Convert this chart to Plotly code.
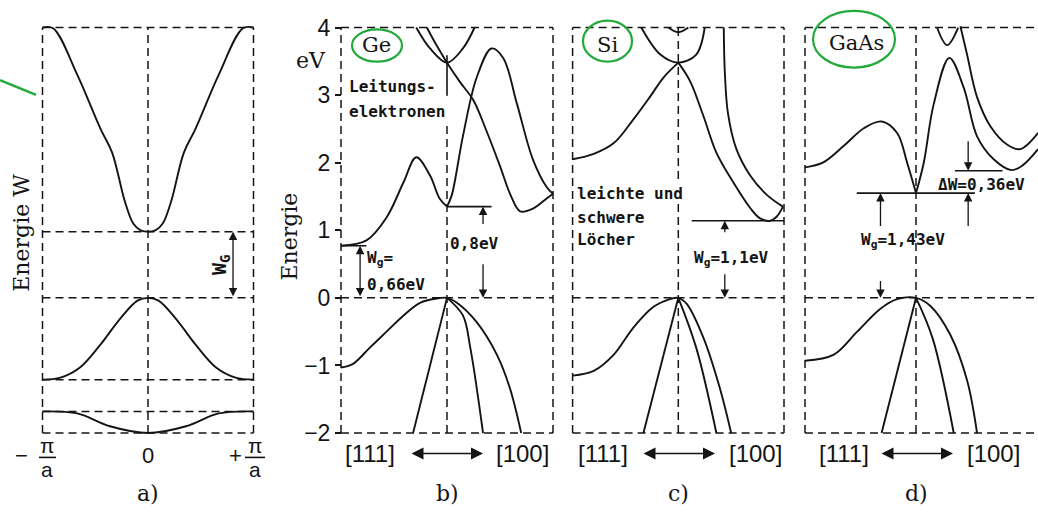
import plotly.graph_objects as go

W, H = 1038, 524

# ---------------- common energy axis (eV) ----------------
E_RANGE = [-2.1, 4.1]
E_TICKVALS = [-2, -1, 0, 1, 2, 3, 4]
E_TICKTEXT = ["\u22122", "\u22121", "0", "1", "2", "3", "4"]

# ---------------- a) schematic band model ----------------
A_UP_K = [-1, -0.9, -0.67, -0.45, -0.34, -0.22, -0.14, -0.07, 0, 0.07, 0.14, 0.22, 0.34, 0.45, 0.67, 0.9, 1]
A_UP_E = [4, 3.99, 3.3, 2.5, 2.15, 1.43, 1.1, 1.0, 0.98, 1.0, 1.1, 1.43, 2.15, 2.5, 3.3, 3.99, 4]
A_MID_K = [-1, -0.83, -0.645, -0.455, -0.265, -0.1, 0, 0.1, 0.265, 0.455, 0.645, 0.83, 1]
A_MID_E = [-1.21, -1.18, -1.03, -0.70, -0.31, -0.04, 0, -0.04, -0.31, -0.70, -1.03, -1.18, -1.21]
A_LOW_K = [-1, -0.67, -0.36, 0, 0.36, 0.67, 1]
A_LOW_E = [-1.68, -1.71, -1.9, -2.0, -1.9, -1.71, -1.68]
A_LEVELS = [4, 0.98, 0, -1.21, -1.68, -2]

# ---------------- b) Ge ----------------
GE_CB1L_K = [-1, -0.76, -0.57, -0.41, -0.29, -0.16, -0.07, 0]
GE_CB1L_E = [0.77, 0.85, 1.19, 1.71, 2.08, 1.81, 1.47, 1.35]
GE_CB1R_K = [0, 0.045, 0.15, 0.28, 0.42, 0.53, 0.66, 0.81, 0.94, 1]
GE_CB1R_E = [1.35, 1.52, 2.39, 3.26, 3.69, 3.55, 2.87, 2.05, 1.64, 1.54]
GE_CB2_K = [-0.19, -0.10, 0, 0.12, 0.25, 0.37, 0.50, 0.60, 0.69, 0.81, 0.94, 1]
GE_CB2_E = [4.0, 3.74, 3.48, 3.2, 2.92, 2.48, 1.95, 1.52, 1.28, 1.32, 1.47, 1.54]
GE_CB3_K = [-0.29, -0.16, 0, 0.15, 0.26]
GE_CB3_E = [4.0, 3.69, 3.48, 3.69, 4.0]
GE_VB1_K = [-1, -0.89, -0.73, -0.57, -0.41, -0.25, -0.1, 0, 0.09, 0.28, 0.47, 0.59, 0.70]
GE_VB1_E = [-1.03, -0.98, -0.74, -0.50, -0.26, -0.07, -0.01, 0, -0.07, -0.36, -0.84, -1.32, -2]
GE_VB2_K = [0, 0.15, 0.22, 0.34]
GE_VB2_E = [0, -0.26, -0.74, -2]
GE_VB3_K = [0, -0.32]
GE_VB3_E = [0, -2]
GE_GAP_L = 0.77     # level at [111] edge
GE_GAP_C = 1.35     # level at centre
GE_MARK = [2.99, 3.59]

# ---------------- c) Si ----------------
SI_CB1L_K = [-1, -0.80, -0.61, -0.43, -0.27, -0.14, 0]
SI_CB1L_E = [2.05, 2.13, 2.29, 2.63, 2.97, 3.26, 3.48]
SI_CB1R_K = [0, 0.11, 0.24, 0.36, 0.52, 0.68, 0.77, 0.87, 0.93, 0.99]
SI_CB1R_E = [3.48, 3.21, 2.68, 2.15, 1.71, 1.33, 1.18, 1.14, 1.2, 1.35]
SI_CB2_K = [0.43, 0.44, 0.47, 0.55, 0.68, 0.84, 0.99]
SI_CB2_E = [4.0, 3.35, 2.73, 2.2, 1.81, 1.52, 1.35]
SI_CB3_K = [-0.35, -0.17, 0, 0.17, 0.25]
SI_CB3_E = [4.0, 3.6, 3.48, 3.6, 4.0]
SI_CB4_K = [-0.095, 0, 0.095]
SI_CB4_E = [4.0, 3.93, 4.0]
SI_VB1_K = [-1, -0.8, -0.61, -0.43, -0.24, -0.08, 0, 0.08, 0.24, 0.39, 0.50]
SI_VB1_E = [-1.15, -1.08, -0.84, -0.45, -0.14, -0.02, 0, -0.09, -0.6, -1.32, -2]
SI_VB2_K = [0, 0.17, 0.36]
SI_VB2_E = [0, -0.74, -2]
SI_VB3_K = [0, -0.33]
SI_VB3_E = [0, -2]
SI_GAP = 1.14

# ---------------- d) GaAs ----------------
GA_CB1L_K = [-1, -0.84, -0.65, -0.47, -0.31, -0.17, -0.08, 0]
GA_CB1L_E = [1.93, 2.0, 2.25, 2.51, 2.61, 2.44, 2.0, 1.55]
GA_CB1R_K = [0, 0.07, 0.16, 0.30, 0.43, 0.55, 0.70, 0.86, 0.96, 1.10]
GA_CB1R_E = [1.55, 2.0, 2.87, 3.55, 3.11, 2.39, 2.05, 1.89, 1.96, 2.2]
GA_CB2_K = [0.40, 0.46, 0.55, 0.67, 0.82, 0.94, 1.10]
GA_CB2_E = [4.02, 3.6, 2.97, 2.54, 2.27, 2.2, 2.44]
GA_CB3_K = [0.19, 0.28, 0.38]
GA_CB3_E = [4.0, 3.74, 4.0]
GA_VB1_K = [-1, -0.74, -0.53, -0.32, -0.17, 0, 0.13, 0.31, 0.46, 0.55]
GA_VB1_E = [-0.93, -0.84, -0.5, -0.16, -0.02, 0, -0.12, -0.55, -1.22, -2]
GA_VB2_K = [0, 0.15, 0.34]
GA_VB2_E = [0, -0.6, -2]
GA_VB3_K = [0, -0.31]
GA_VB3_E = [0, -2]
GA_GAP = 1.55
GA_SIDE = 1.88

# panel geometry: axis name, centre pixel, pixels per unit k, k range
PANELS = [
    ("x", 148.0, 105.5, [-1.05, 1.05]),
    ("x2", 447.0, 106.0, [-1.05, 1.05]),
    ("x3", 678.3, 105.7, [-1.05, 1.05]),
    ("x4", 916.0, 111.0, [-1.05, 1.099]),
]
E0_PX, PX_PER_EV = 298.7, 69.17

INK = "#141414"
GREEN = "rgb(34,170,60)"
SERIF = "DejaVu Serif"
SANS = "Liberation Sans"
MONO = "DejaVu Sans Mono"

fig = go.Figure()


def curve(xa, k, e, shape="spline"):
    fig.add_trace(go.Scatter(x=k, y=e, xaxis=xa, yaxis="y", mode="lines",
                             line=dict(color=INK, width=1.9, shape=shape, smoothing=1.0),
                             hoverinfo="skip", showlegend=False))


def dline(xa, x0, x1, y0, y1, dash=True, width=1.5):
    fig.add_shape(type="line", xref=xa, yref="y", x0=x0, x1=x1, y0=y0, y1=y1,
                  line=dict(color=INK, width=width, dash="8px,5px" if dash else "solid"))


def arrow(xa, k, tip, tail, both=False):
    fig.add_annotation(x=k, y=tip, ax=k, ay=tail, xref=xa, yref="y", axref=xa, ayref="y",
                       text="", showarrow=True, arrowhead=2, arrowsize=1.3, arrowwidth=1.3,
                       arrowcolor=INK, arrowside="end+start" if both else "end", standoff=0,
                       startstandoff=0)


def txt(x, y, s, size=17, font=MONO, anchor="left", angle=0, bold=False, color=INK):
    if bold:
        s = "<b>" + s + "</b>"
    fig.add_annotation(x=x / W, y=1 - y / H, xref="paper", yref="paper", text=s,
                       showarrow=False, xanchor=anchor, yanchor="middle", textangle=angle,
                       font=dict(family=font, size=size, color=color))


# ---- a)
curve("x", A_UP_K, A_UP_E)
curve("x", A_MID_K, A_MID_E)
curve("x", A_LOW_K, A_LOW_E)
for lv in A_LEVELS:
    dline("x", -1, 1, lv, lv)
for kv in [-1, 0, 1]:
    dline("x", kv, kv, -2, 4)
arrow("x", 0.806, A_LEVELS[1], A_LEVELS[2], both=True)

# ---- b) Ge
curve("x2", GE_CB1L_K, GE_CB1L_E)
curve("x2", GE_CB1R_K, GE_CB1R_E)
curve("x2", GE_CB2_K, GE_CB2_E)
curve("x2", GE_CB3_K, GE_CB3_E)
curve("x2", GE_VB1_K, GE_VB1_E)
curve("x2", GE_VB2_K, GE_VB2_E)
curve("x2", GE_VB3_K, GE_VB3_E, shape="linear")
for lv in [4, 0, -2]:
    dline("x2", -1, 1, lv, lv)
for kv in [-1, 1]:
    dline("x2", kv, kv, -2, 4)
dline("x2", 0, 0, -2, 2.55)
dline("x2", 0, 0, GE_MARK[0], GE_MARK[1], dash=False, width=1.6)
dline("x2", -1, -0.76, GE_GAP_L, GE_GAP_L, dash=False, width=1.6)
dline("x2", 0, 0.42, GE_GAP_C, GE_GAP_C, dash=False, width=1.6)
arrow("x2", -0.82, GE_GAP_L, 0, both=True)
arrow("x2", 0.34, GE_GAP_C, 1.07)
arrow("x2", 0.34, 0, 0.52)

# ---- c) Si
curve("x3", SI_CB1L_K, SI_CB1L_E)
curve("x3", SI_CB1R_K, SI_CB1R_E)
curve("x3", SI_CB2_K, SI_CB2_E)
curve("x3", SI_CB3_K, SI_CB3_E)
curve("x3", SI_CB4_K, SI_CB4_E)
curve("x3", SI_VB1_K, SI_VB1_E)
curve("x3", SI_VB2_K, SI_VB2_E)
curve("x3", SI_VB3_K, SI_VB3_E, shape="linear")
for lv in [4, 0, -2]:
    dline("x3", -1, 1, lv, lv)
for kv in [-1, 1]:
    dline("x3", kv, kv, -2, 4)
dline("x3", 0, 0, 1.76, 4)
dline("x3", 0, 0, -2, 1.42)
dline("x3", 0.127, 1, SI_GAP, SI_GAP, dash=False, width=1.6)
arrow("x3", 0.44, SI_GAP, 0.95)
arrow("x3", 0.44, 0, 0.37)

# ---- d) GaAs
curve("x4", GA_CB1L_K, GA_CB1L_E)
curve("x4", GA_CB1R_K, GA_CB1R_E)
curve("x4", GA_CB2_K, GA_CB2_E)
curve("x4", GA_CB3_K, GA_CB3_E)
curve("x4", GA_VB1_K, GA_VB1_E)
curve("x4", GA_VB2_K, GA_VB2_E)
curve("x4", GA_VB3_K, GA_VB3_E, shape="linear")
for lv in [4, 0, -2]:
    dline("x4", -1, 1.2, lv, lv)
for kv in [-1, 0]:
    dline("x4", kv, kv, -2, 4)
dline("x4", -0.534, 0.53, GA_GAP, GA_GAP, dash=False, width=1.6)
dline("x4", 0.35, 0.78, GA_SIDE, GA_SIDE, dash=False, width=1.6)
arrow("x4", -0.32, GA_GAP, 1.04)
arrow("x4", -0.32, 0, 0.27)
arrow("x4", 0.47, GA_GAP, 1.04)
arrow("x4", 0.47, GA_SIDE, 2.34)

# ---- axes
layout = dict(width=W, height=H, margin=dict(l=0, r=0, t=0, b=0), autosize=False,
              plot_bgcolor="white", paper_bgcolor="white", showlegend=False)
ytop = E0_PX - E_RANGE[1] * PX_PER_EV
ybot = E0_PX - E_RANGE[0] * PX_PER_EV
layout["yaxis"] = dict(range=E_RANGE, domain=[1 - ybot / H, 1 - ytop / H],
                       anchor="free", position=341 / W,
                       tickvals=E_TICKVALS, ticktext=E_TICKTEXT, ticks="outside",
                       ticklen=6, tickwidth=1.5, tickcolor=INK, showgrid=False,
                       zeroline=False, showline=False,
                       tickfont=dict(family=SANS, size=23, color=INK))
for name, c, ppk, kr in PANELS:
    key = "xaxis" if name == "x" else "xaxis" + name[1:]
    left = c + kr[0] * ppk
    right = c + kr[1] * ppk
    layout[key] = dict(range=kr, domain=[left / W, min(right / W, 1.0)], anchor="y",
                       showticklabels=False, ticks="", showgrid=False, zeroline=False,
                       showline=False)
fig.update_layout(**layout)

# ---- texts: panel a
txt(22, 232, "Energie W", size=22, font=SERIF, anchor="center", angle=-90)
txt(220, 265, "W<sub>G</sub>", size=20, font=MONO, anchor="center", angle=-90, bold=True)
txt(21, 460, "\u2212", size=22, font=SANS, anchor="center")
txt(47, 450, "\u03c0", size=21, font=SANS, anchor="center")
txt(47, 474, "a", size=21, font=SANS, anchor="center")
txt(148, 460, "0", size=22, font=SANS, anchor="center")
txt(235, 460, "+", size=22, font=SANS, anchor="center")
txt(255, 450, "\u03c0", size=21, font=SANS, anchor="center")
txt(255, 474, "a", size=21, font=SANS, anchor="center")
for x0, x1 in [(39, 56), (245, 265)]:
    fig.add_shape(type="line", xref="paper", yref="paper", x0=x0 / W, x1=x1 / W,
                  y0=1 - 462 / H, y1=1 - 462 / H, line=dict(color=INK, width=1.6))

# ---- texts: energy axis
txt(290, 236, "Energie", size=22, font=SERIF, anchor="center", angle=-90)
txt(311, 56, "eV", size=22, font=SERIF, anchor="center")

# ---- texts: Ge
txt(376, 40, "Ge", size=21, font=SERIF, anchor="center")
txt(347, 82, "Leitungs-", size=16, bold=True)
txt(347, 108, "elektronen", size=16, bold=True)
txt(365, 258, "W<sub>g</sub>=", size=16, bold=True)
txt(365, 285, "0,66eV", size=16, bold=True)
txt(448, 243, "0,8eV", size=16, bold=True)

# ---- texts: Si
txt(607, 40, "Si", size=21, font=SERIF, anchor="center")
txt(575, 192, "leichte und", size=16, bold=True)
txt(575, 216, "schwere", size=16, bold=True)
txt(575, 239, "L\u00f6cher", size=16, bold=True)
txt(692, 258, "W<sub>g</sub>=1,1eV", size=16, bold=True)

# ---- texts: GaAs
txt(856, 38, "GaAs", size=21, font=SERIF, anchor="center")
txt(936, 183, "\u0394W=0,36eV", size=16, bold=True)
txt(859, 240, "W<sub>g</sub>=1,43eV", size=16, bold=True)

# ---- direction labels and panel letters
for c111, c100, a0, a1, lab, cx in [(370, 522, 410, 483, "b)", 447),
                                     (603, 755, 642, 715, "c)", 678),
                                     (844, 993, 880, 953, "d)", 916)]:
    txt(c111, 458, "[111]", size=24, font=SANS, anchor="center")
    txt(c100, 458, "[100]", size=24, font=SANS, anchor="center")
    fig.add_annotation(x=a1 / W, y=1 - 458 / H, xref="paper", yref="paper",
                       ax=-(a1 - a0), ay=0, text="", showarrow=True, arrowhead=2,
                       arrowsize=1.6, arrowwidth=1.5, arrowcolor=INK,
                       arrowside="end+start", standoff=0, startstandoff=0)
    txt(cx, 499, lab, size=22, font=SERIF, anchor="center")
txt(148, 499, "a)", size=22, font=SERIF, anchor="center")

# ---- green hand-drawn marks
for x0, y0, x1, y1 in [(352, 24, 402, 57), (583, 15, 632, 57), (813, 5, 895, 63)]:
    fig.add_shape(type="circle", xref="paper", yref="paper",
                  x0=x0 / W, x1=x1 / W, y0=1 - y1 / H, y1=1 - y0 / H,
                  line=dict(color=GREEN, width=2.2))
fig.add_shape(type="line", xref="paper", yref="paper", x0=0, y0=1 - 76 / H,
              x1=36 / W, y1=1 - 91 / H, line=dict(color=GREEN, width=2.5))

fig.write_html("out.html", config={"displayModeBar": False},
               post_script="document.body.style.margin='0';document.body.style.overflow='hidden';")
